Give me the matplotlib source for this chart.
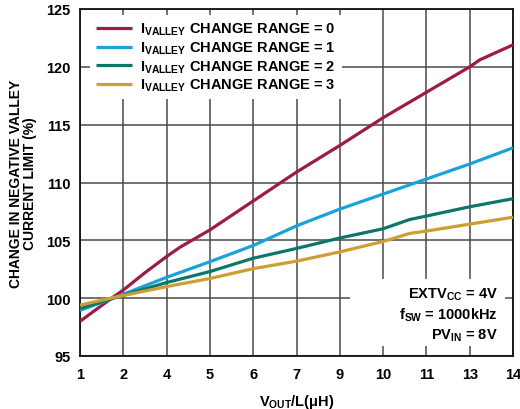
import numpy as np
import matplotlib
matplotlib.use("Agg")
import matplotlib.pyplot as plt
from matplotlib.patches import Rectangle

plt.rcParams['font.family'] = ['Liberation Sans', 'DejaVu Sans']
plt.rcParams['font.weight'] = 'bold'
plt.rcParams['mathtext.fontset'] = 'custom'
plt.rcParams['mathtext.rm'] = 'Liberation Sans:bold'
plt.rcParams['mathtext.bf'] = 'Liberation Sans:bold'
plt.rcParams['mathtext.it'] = 'Liberation Sans:bold'

# Valley current limit change vs VOUT/L for each IVALLEY change range setting
x_r0 = [1.0, 2.0, 2.3, 2.95, 3.6, 4.0, 4.9, 6.2, 7.5, 8.8, 10.1, 11.4, 12.7, 13.0, 14.0]
range0 = [98.0, 100.1, 100.7, 102.2, 103.6, 104.4, 105.9, 108.4, 110.9, 113.2, 115.6, 117.8, 120.0, 120.6, 121.9]

x_r1 = [1.0, 2.0, 3.6, 4.9, 6.2, 7.5, 8.8, 10.1, 11.4, 12.7, 14.0]
range1 = [98.95, 100.0, 101.8, 103.15, 104.55, 106.25, 107.7, 109.0, 110.3, 111.6, 113.0]

x_r23 = [1.0, 2.0, 3.6, 4.9, 6.2, 7.5, 8.8, 10.1, 10.9, 11.4, 12.7, 14.0]
range2 = [99.1, 100.0, 101.35, 102.3, 103.45, 104.3, 105.2, 106.0, 106.8, 107.1, 107.9, 108.6]
range3 = [99.4, 100.05, 101.0, 101.7, 102.55, 103.2, 104.0, 104.9, 105.6, 105.8, 106.4, 107.0]

x_tick_labels = ['1', '2', '4', '5', '6', '7', '9', '10', '11', '13', '14']
y_ticks = [95, 100, 105, 110, 115, 120, 125]

series = [
    (x_r0, range0, '#A01A45', r'$\mathrm{I_{VALLEY}}$ CHANGE RANGE = 0'),
    (x_r1, range1, '#17A3DB', r'$\mathrm{I_{VALLEY}}$ CHANGE RANGE = 1'),
    (x_r23, range2, '#0C7768', r'$\mathrm{I_{VALLEY}}$ CHANGE RANGE = 2'),
    (x_r23, range3, '#CC9F30', r'$\mathrm{I_{VALLEY}}$ CHANGE RANGE = 3'),
]

fig = plt.figure(figsize=(5.2, 4.1), dpi=100)
ax = fig.add_axes([80 / 520, 1 - 357 / 410, 433 / 520, 347 / 410])

for xs, ys, c, lab in series:
    ax.plot(xs, ys, color=c, lw=2.3, label=lab, zorder=3, solid_capstyle='butt')

ax.set_xlim(1, 14)
ax.set_ylim(95, 125)
ax.set_xticks(np.linspace(1, 14, len(x_tick_labels)))
ax.set_xticklabels(x_tick_labels)
ax.set_yticks(y_ticks)
ax.tick_params(length=0, labelsize=10.5)
ax.tick_params(axis='x', pad=8)
ax.tick_params(axis='y', pad=7)
ax.set_axisbelow(True)
ax.grid(True, color='#4a4a4a', lw=1.1)
for s in ax.spines.values():
    s.set_color('#111111')
    s.set_linewidth(1.3)

# white panel behind the operating conditions
ax.add_patch(Rectangle((0.624, 0.029), 0.358, 0.193, transform=ax.transAxes,
                       facecolor='white', edgecolor='none', zorder=1))
cond = [r'EXTV$_\mathrm{CC}$ = 4V', r'f$_\mathrm{SW}$ = 1000kHz', r'PV$_\mathrm{IN}$ = 8V']
for i, t in enumerate(cond):
    ax.text(0.965, 0.178 - i * 0.059, t, transform=ax.transAxes, ha='right',
            va='center', fontsize=10.5, fontweight='bold', zorder=4)

leg = ax.legend(loc='upper left', bbox_to_anchor=(0.023, 0.982), borderaxespad=0,
                fontsize=10.5, frameon=True, fancybox=False, framealpha=1,
                facecolor='white', edgecolor='none', handlelength=2.45,
                handletextpad=0.6, labelspacing=0.15, borderpad=0.4)
leg.set_zorder(5)

ax.set_xlabel(r'V$_\mathrm{OUT}$/L(μH)', fontsize=10.5, fontweight='bold', labelpad=8)
fig.text(16.5 / 520, 1 - 183.5 / 410, 'CHANGE IN NEGATIVE VALLEY', rotation=90,
         ha='center', va='center', fontsize=10, fontweight='bold')
fig.text(30 / 520, 1 - 183.5 / 410, 'CURRENT LIMIT (%)', rotation=90,
         ha='center', va='center', fontsize=10, fontweight='bold')

fig.savefig('out.png', dpi=100)
